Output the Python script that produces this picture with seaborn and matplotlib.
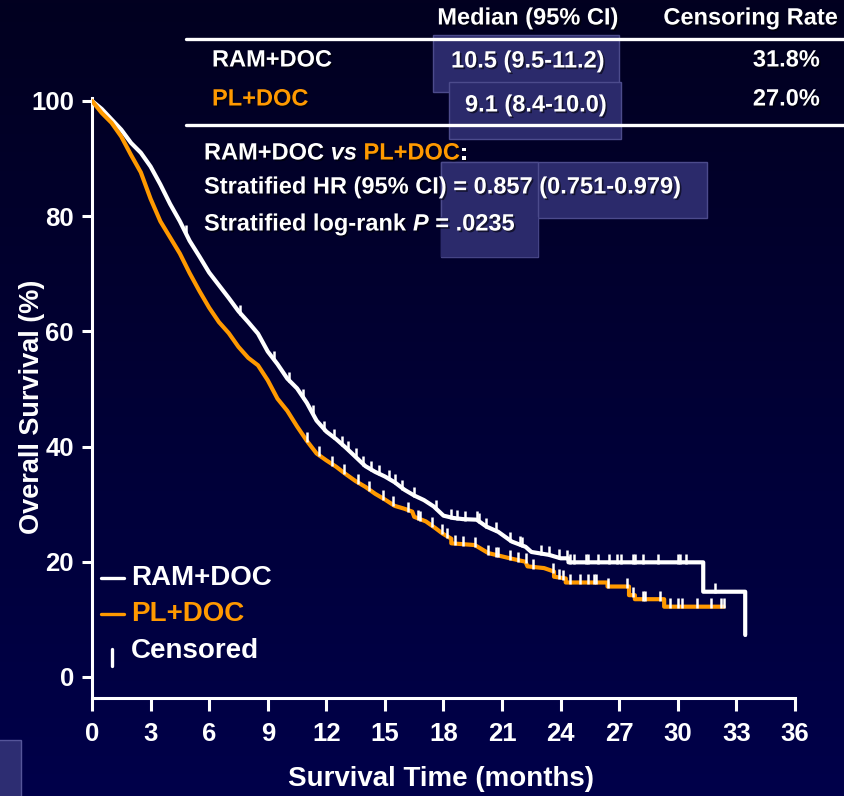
import numpy as np
import matplotlib
matplotlib.use("Agg")
import matplotlib.pyplot as plt
import matplotlib.patheffects as pe
from matplotlib.lines import Line2D
from matplotlib.patches import Rectangle
import seaborn as sns

# ---------------- data ----------------
ram_time = [0, 0.5, 1.0, 1.5, 2.0, 2.5, 3.0, 3.5, 4.0, 4.5, 5.0, 5.5, 6.0, 6.5, 7.0, 7.5,
            8.0, 8.5, 9.0, 9.5, 10.0, 10.5, 11.0, 11.5, 12.0, 12.5, 13.0, 13.5, 14.0, 14.5,
            15.0, 15.5, 16.0, 16.5, 17.0, 17.5, 18.0, 18.5, 19.0, 19.7, 20.2, 20.8, 21.5,
            22.2, 22.5, 23.4, 24.0, 24.4, 24.4, 31.3, 31.3, 33.45, 33.45]
ram_surv = [100, 98.6, 96.8, 95.0, 92.7, 91.0, 88.6, 85.5, 82.1, 79.1, 75.7, 73.0, 70.2, 68.0,
            65.8, 63.5, 61.6, 59.6, 56.5, 54.3, 51.8, 50.1, 47.6, 44.5, 42.6, 41.3, 39.8, 38.2,
            36.6, 35.6, 34.8, 33.8, 32.5, 31.5, 30.7, 29.6, 28.0, 27.6, 27.4, 27.3, 26.1, 25.2,
            23.5, 22.6, 21.7, 21.2, 20.6, 20.6, 19.9, 19.9, 14.8, 14.8, 7.3]

pl_time = [0, 0.5, 1.0, 1.5, 2.0, 2.5, 3.0, 3.5, 4.0, 4.5, 5.0, 5.5, 6.0, 6.5, 7.0, 7.5, 8.0,
           8.5, 9.0, 9.5, 10.0, 10.5, 11.0, 11.5, 12.0, 12.5, 13.0, 13.5, 14.0, 14.5, 15.0,
           15.5, 16.0, 16.4, 16.5, 17.1, 17.6, 17.95, 18.4, 18.4, 19.6, 20.3, 21.4, 22.2,
           22.3, 23.15, 23.66, 23.66, 24.26, 24.26, 26.4, 26.4, 27.5, 27.5, 27.8, 27.8,
           29.3, 29.3, 32.35]
pl_surv = [100, 97.9, 96.2, 93.8, 90.6, 87.6, 83.0, 79.1, 76.3, 73.5, 70.1, 67.0, 64.1, 61.6,
           59.7, 57.3, 55.4, 54.1, 51.5, 48.3, 46.2, 43.5, 41.0, 38.8, 37.6, 36.5, 35.2, 34.0,
           33.0, 31.8, 30.8, 29.7, 29.2, 28.7, 27.8, 27.0, 25.8, 24.9, 24.0, 23.2, 22.9, 21.5,
           20.6, 20.0, 19.2, 18.9, 18.3, 17.4, 17.1, 16.4, 16.4, 15.7, 15.7, 14.2, 14.2, 13.5,
           13.5, 12.2, 12.2]

ram_censor = [4.8, 7.6, 9.3, 10.1, 10.8, 11.3, 11.9, 12.4, 12.8, 13.1, 13.5, 13.9, 14.3, 14.7,
              15.2, 15.5, 15.9, 16.5, 17.6, 18.4, 18.7, 19.1, 19.7, 19.8, 20.2, 20.7, 21.4,
              21.9, 22.0, 23.0, 23.4, 23.9, 24.3, 24.5, 24.7, 25.3, 25.4, 25.9, 26.5, 26.9,
              27.1, 27.7, 27.8, 28.2, 29.0, 30.0, 30.1, 30.4, 31.9, 33.45]
pl_censor = [11.0, 11.6, 12.3, 12.9, 13.6, 14.2, 14.9, 15.4, 16.2, 16.7, 16.8, 17.4, 17.9,
             18.2, 18.6, 19.0, 19.6, 20.3, 20.7, 20.8, 21.4, 21.8, 22.2, 22.6, 23.6, 23.9,
             24.1, 24.5, 25.0, 25.4, 25.7, 25.8, 26.4, 27.4, 27.7, 28.2, 28.3, 29.1, 29.6,
             30.0, 30.2, 31.0, 31.7, 32.2, 32.35]

x_ticks = [0, 3, 6, 9, 12, 15, 18, 21, 24, 27, 30, 33, 36]
y_ticks = [0, 20, 40, 60, 80, 100]
groups = ["RAM+DOC", "PL+DOC"]
median_ci = ["10.5 (9.5-11.2)", "9.1 (8.4-10.0)"]
censoring_rate = ["31.8%", "27.0%"]

WHITE = "#FFFFFF"
ORANGE = "#FF9900"
BOX_FC = "#2b2a6b"
BOX_EC = "#4c4b8c"

W, H = 844, 796

sns.set_style("ticks")
plt.rcParams["font.family"] = ["Liberation Sans", "DejaVu Sans"]
plt.rcParams["font.weight"] = "bold"
plt.rcParams["axes.labelweight"] = "bold"

fig = plt.figure(figsize=(W / 100, H / 100), dpi=100)

SHADOW = [pe.withSimplePatchShadow(offset=(1.2, -1.2), shadow_rgbFace="black", alpha=0.55)]


def fx(x):
    return x / W


def fy(y):
    return 1 - y / H


def on_curve(times, surv, c):
    """Survival value of the drawn curve at time c (right-continuous at steps)."""
    times = np.asarray(times, float)
    surv = np.asarray(surv, float)
    i = int(np.searchsorted(times, c, side="right")) - 1
    if i >= len(times) - 1:
        return surv[-1]
    t0, t1 = times[i], times[i + 1]
    if t1 == t0:
        return surv[i + 1]
    return surv[i] + (surv[i + 1] - surv[i]) * (c - t0) / (t1 - t0)


# background gradient
bg = fig.add_axes([0, 0, 1, 1], zorder=-10)
top = np.array([2, 0, 32]) / 255.0
bot = np.array([0, 0, 74]) / 255.0
g = np.linspace(0, 1, 256)[:, None, None]
img = top * (1 - g) + bot * g
bg.imshow(img, aspect="auto", extent=[0, 1, 0, 1])
bg.set_axis_off()


def box(x0, y0, x1, y1, fc=BOX_FC, ec=BOX_EC):
    fig.add_artist(Rectangle((fx(x0), fy(y1)), (x1 - x0) / W, (y1 - y0) / H,
                             transform=fig.transFigure, facecolor=fc, edgecolor=ec,
                             lw=1.0, zorder=1))


box(433, 35, 619, 92)
box(449, 82, 621, 139)
box(441, 162, 707, 218)
box(441, 162, 538, 257)
box(441, 217, 537, 256, ec=BOX_FC)
box(-2, 740, 21, 800, fc="#2d2d72", ec="#55559a")

# main axes
ax = fig.add_axes([fx(92), fy(698), 703 / W, 600 / H])
ax.set_facecolor("none")

sns.lineplot(x=ram_time, y=ram_surv, ax=ax, color=WHITE, lw=3.0, sort=False,
             estimator=None, zorder=3)
sns.lineplot(x=pl_time, y=pl_surv, ax=ax, color=ORANGE, lw=3.0, sort=False,
             estimator=None, zorder=3)

ram_c_y = np.array([on_curve(ram_time, ram_surv, c) for c in ram_censor])
pl_c_y = np.array([on_curve(pl_time, pl_surv, c) for c in pl_censor])
sns.scatterplot(x=ram_censor, y=ram_c_y + 0.6, ax=ax, marker="|", s=45, color=WHITE,
                linewidth=1.8, zorder=4)
sns.scatterplot(x=pl_censor, y=pl_c_y + 0.6, ax=ax, marker="|", s=45, color=WHITE,
                linewidth=1.8, zorder=4)

ax.set_xlim(0, 36)
ax.set_ylim(-3.65, 100.5)
ax.set_xticks(x_ticks)
ax.set_yticks(y_ticks)
ax.set_xticklabels([str(v) for v in x_ticks])
ax.set_yticklabels([str(v) for v in y_ticks])
for side in ["top", "right"]:
    ax.spines[side].set_visible(False)
for side in ["left", "bottom"]:
    ax.spines[side].set_color(WHITE)
    ax.spines[side].set_linewidth(2.2)
ax.tick_params(axis="both", colors=WHITE, width=2.2, labelsize=18.5)
ax.tick_params(axis="x", length=9, pad=8)
ax.tick_params(axis="y", length=7, pad=6)
for lab in ax.get_xticklabels() + ax.get_yticklabels():
    lab.set_fontweight("bold")
    lab.set_color(WHITE)

ax.set_xlabel("Survival Time (months)", color=WHITE, fontsize=20, fontweight="bold")
ax.set_ylabel("Overall Survival (%)", color=WHITE, fontsize=19.5, fontweight="bold")
ax.xaxis.set_label_coords((441 - 92) / 703, (698 - 779) / 600)
ax.xaxis.label.set_va("center")
ax.yaxis.set_label_coords((32 - 92) / 703, (698 - 407) / 600)
ax.yaxis.label.set_va("center")

# legend (drawn manually)
LEG = 20
fig.add_artist(Line2D([fx(101), fx(124)], [fy(578), fy(578)], color=WHITE, lw=2.4,
                      transform=fig.transFigure))
fig.add_artist(Line2D([fx(101), fx(124)], [fy(614), fy(614)], color=ORANGE, lw=2.4,
                      transform=fig.transFigure))
fig.add_artist(Line2D([fx(112), fx(112)], [fy(649), fy(666)], color=WHITE, lw=2.4,
                      transform=fig.transFigure))
fig.text(fx(131), fy(578), groups[0], color=WHITE, fontsize=LEG, fontweight="bold",
         va="center", ha="left")
fig.text(fx(131), fy(614), groups[1], color=ORANGE, fontsize=LEG, fontweight="bold",
         va="center", ha="left")
fig.text(fx(131), fy(651), "Censored", color=WHITE, fontsize=LEG, fontweight="bold",
         va="center", ha="left")

# table
TS = 17
fig.add_artist(Line2D([fx(186), 1.0], [fy(39), fy(39)], color=WHITE, lw=2.4,
                      transform=fig.transFigure, zorder=2))
fig.add_artist(Line2D([fx(186), 1.0], [fy(125), fy(125)], color=WHITE, lw=2.4,
                      transform=fig.transFigure, zorder=2))


def ftext(x, y, s, color=WHITE, ha="left"):
    return fig.text(fx(x), fy(y), s, color=color, fontsize=TS, fontweight="bold",
                    ha=ha, va="center", zorder=3, path_effects=SHADOW)


ftext(528, 18, "Median (95% CI)", ha="center")
ftext(838, 18, "Censoring Rate", ha="right")
ftext(212, 60, groups[0])
ftext(212, 99, groups[1], color=ORANGE)
ftext(605, 61, median_ci[0], ha="right")
ftext(607, 105, median_ci[1], ha="right")
ftext(820, 60, censoring_rate[0], ha="right")
ftext(820, 99, censoring_rate[1], ha="right")

renderer = fig.canvas.get_renderer()
SPACE = TS * 100 / 72 * 0.278


def seq_text(x, y, parts):
    for s, color, style, gap in parts:
        t = fig.text(fx(x), fy(y), s, color=color, fontsize=TS, fontweight="bold",
                     style=style, ha="left", va="center", zorder=3, path_effects=SHADOW)
        x += t.get_window_extent(renderer).width + gap


seq_text(204, 153, [("RAM+DOC", WHITE, "normal", SPACE), ("vs", WHITE, "italic", SPACE),
                    ("PL+DOC", ORANGE, "normal", 0), (":", WHITE, "normal", 0)])
seq_text(204, 187, [("Stratified HR (95% CI) = 0.857 (0.751-0.979)", WHITE, "normal", 0)])
seq_text(204, 224, [("Stratified log-rank", WHITE, "normal", SPACE),
                    ("P", WHITE, "italic", SPACE), ("= .0235", WHITE, "normal", 0)])

fig.savefig("out.png", dpi=100)
